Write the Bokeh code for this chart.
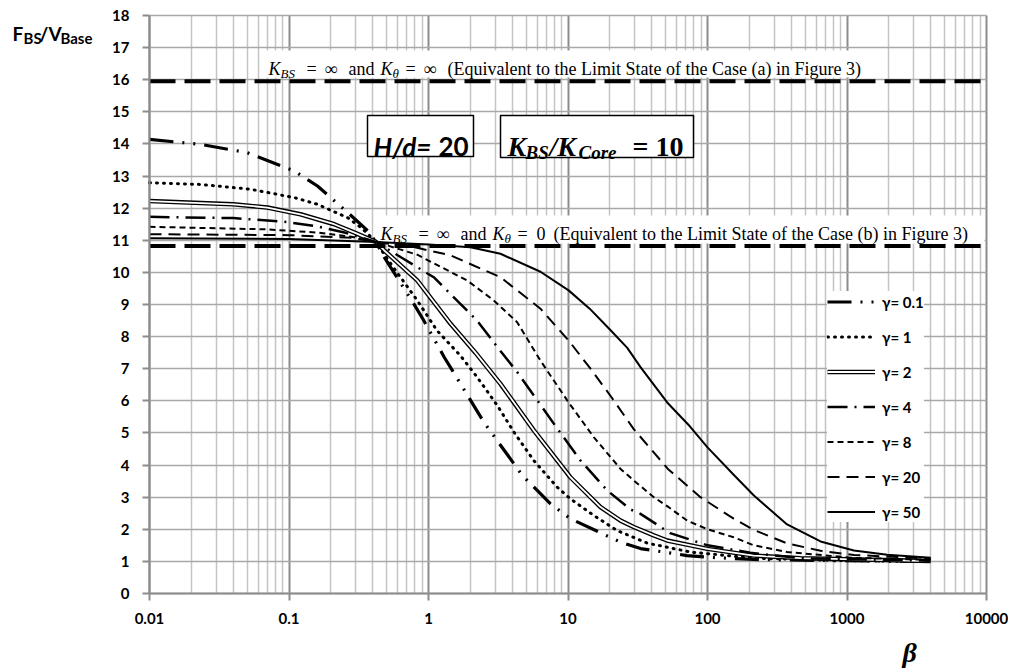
import math
from bokeh.plotting import figure
from bokeh.models import (Range1d, FixedTicker, NumeralTickFormatter, Label,
                          BoxAnnotation, Legend, LegendItem)
from bokeh.embed import file_html
from bokeh.resources import INLINE

# ---------------- data ----------------
beta_g01 = [0.01, 0.023, 0.05, 0.109, 0.16, 0.264, 0.368, 0.42, 0.48, 0.785, 0.925, 1.3, 1.56, 2.49, 4.7, 7.5, 10.4, 23.8, 33.1, 71.5, 100, 215, 1000, 3980]
val_g01 = [14.14, 13.99, 13.73, 13.16, 12.69, 11.86, 11.29, 10.95, 10.48, 9.02, 8.5, 7.35, 6.79, 5.34, 3.68, 2.79, 2.33, 1.6, 1.4, 1.18, 1.13, 1.06, 1.02, 1.0]

beta_g1 = [0.01, 0.023, 0.053, 0.109, 0.16, 0.264, 0.33, 0.42, 0.53, 0.83, 1.15, 1.7, 2.23, 3.11, 4.09, 5.69, 8.37, 10.4, 15.3, 22.5, 37, 75.5, 100, 215, 1000, 3980]
val_g1 = [12.79, 12.74, 12.59, 12.33, 12.12, 11.7, 11.39, 10.95, 10.3, 9.13, 8.19, 7.4, 6.74, 5.86, 5.03, 4.14, 3.31, 2.95, 2.43, 1.96, 1.57, 1.29, 1.24, 1.1, 1.02, 1.0]

beta_g2 = [0.01, 0.04, 0.07, 0.121, 0.211, 0.295, 0.42, 0.48, 0.83, 1.44, 2.17, 3.28, 5.69, 10.4, 17.1, 23.8, 29.6, 41.2, 51.4, 100, 215, 464, 3980]
val_g2 = [12.22, 12.12, 12.02, 11.81, 11.5, 11.24, 10.95, 10.69, 9.75, 8.4, 7.5, 6.53, 5.08, 3.62, 2.69, 2.27, 2.07, 1.81, 1.65, 1.39, 1.18, 1.1, 1.01]

beta_g4 = [0.01, 0.04, 0.092, 0.16, 0.25, 0.42, 0.63, 1.09, 2.23, 3.28, 4.32, 7.91, 12.3, 19.1, 28, 33.1, 54, 100, 203, 464, 3980]
val_g4 = [11.73, 11.69, 11.58, 11.43, 11.24, 10.95, 10.48, 9.85, 8.5, 7.55, 6.9, 5.29, 4.14, 3.21, 2.62, 2.48, 1.88, 1.5, 1.27, 1.1, 1.02]

beta_g8 = [0.01, 0.07, 0.16, 0.28, 0.42, 0.83, 1.89, 2.93, 4.32, 6.35, 10.1, 15.3, 23.8, 29.6, 41.2, 51.4, 71.5, 100, 154, 215, 372, 1120, 3980]
val_g8 = [11.42, 11.34, 11.24, 11.11, 10.95, 10.55, 9.75, 9.13, 8.45, 7.25, 5.95, 4.87, 3.88, 3.52, 3.0, 2.72, 2.27, 2.0, 1.75, 1.5, 1.29, 1.11, 1.05]

beta_g20 = [0.01, 0.1, 0.28, 0.42, 0.8, 1.44, 3.28, 6.35, 10.1, 14.5, 20.2, 29.6, 52, 89, 154, 215, 372, 646, 1120, 3980]
val_g20 = [11.19, 11.16, 11.08, 10.95, 10.78, 10.53, 9.85, 8.87, 7.88, 7.0, 6.15, 5.12, 3.88, 3.0, 2.33, 1.98, 1.56, 1.33, 1.2, 1.09]

beta_g50 = [0.01, 0.1, 0.42, 1.0, 2.0, 3.28, 6.35, 10.1, 14.3, 20.2, 26.6, 33.1, 51.4, 75, 100, 154, 215, 372, 646, 1120, 1941, 3980]
val_g50 = [11.06, 11.04, 10.95, 10.87, 10.78, 10.58, 10.02, 9.44, 8.87, 8.2, 7.65, 7.05, 5.95, 5.2, 4.55, 3.7, 3.05, 2.15, 1.62, 1.34, 1.21, 1.11]

legend_labels = ["γ= 0.1", "γ= 1", "γ= 2", "γ= 4", "γ= 8", "γ= 20", "γ= 50"]
limit_a = 15.95   # K_BS = inf, K_theta = inf
limit_b = 10.82   # K_BS = inf, K_theta = 0

x_ticks = [0.01, 0.1, 1, 10, 100, 1000, 10000]
x_minor = [d * k for d in [0.01, 0.1, 1, 10, 100, 1000] for k in range(2, 10)]
y_ticks = list(range(0, 19))

text_a = "(Equivalent to the Limit State of the Case (a) in Figure 3)"
text_b = "(Equivalent to the Limit State of the Case (b) in Figure 3)"

# ---------------- layout (page pixels) ----------------
W, H = 1008, 670
FL, FR, FT, FB = 149, 986, 15, 593          # plot area inside the canvas
XMIN, XMAX, YMIN, YMAX = 0.01, 10000, 0, 18
LX0, LX1 = math.log10(XMIN), math.log10(XMAX)
PPD = (FR - FL) / (LX1 - LX0)                # px per decade
PPU = (FB - FT) / (YMAX - YMIN)              # px per unit
XLO = 10 ** (LX0 - FL / PPD)
XHI = 10 ** (LX1 + (W - FR) / PPD)
YHI = YMAX + FT / PPU
YLO = YMIN - (H - FB) / PPU


def dx(px):
    return 10 ** (LX0 + (px - FL) / PPD)


def dy(py):
    return YMAX - (py - FT) / PPU


p = figure(width=W, height=H, x_axis_type="log",
           x_range=Range1d(XLO, XHI), y_range=Range1d(YLO, YHI),
           output_backend="svg", toolbar_location=None,
           min_border=0, min_border_left=0, min_border_right=0,
           min_border_top=0, min_border_bottom=0)
p.outline_line_color = None
p.background_fill_color = "white"
p.border_fill_color = "white"

xt = FixedTicker(ticks=x_ticks, minor_ticks=x_minor)
yt = FixedTicker(ticks=y_ticks)

# grid limited to the plot area
has_cb = "cross_bounds" in p.xgrid[0].properties()
if has_cb:
    p.xgrid.ticker = xt
    p.xgrid.bounds = (XMIN, XMAX)
    p.xgrid.cross_bounds = (YMIN, YMAX)
    p.xgrid.grid_line_color = "#8c8c8c"
    p.xgrid.grid_line_width = 2
    p.xgrid.minor_grid_line_color = "#c4c4c4"
    p.xgrid.minor_grid_line_width = 1.5
    p.ygrid.ticker = yt
    p.ygrid.bounds = (YMIN, YMAX)
    p.ygrid.cross_bounds = (XMIN, XMAX)
    p.ygrid.grid_line_color = "#a8a8a8"
    p.ygrid.grid_line_width = 1.5
else:
    p.xgrid.visible = False
    p.ygrid.visible = False
    p.segment(x0=x_minor, x1=x_minor, y0=YMIN, y1=YMAX, line_color="#c4c4c4", line_width=1.5)
    p.segment(x0=[XMIN] * len(y_ticks), x1=[XMAX] * len(y_ticks),
              y0=y_ticks, y1=y_ticks, line_color="#a8a8a8", line_width=1.5)
    p.segment(x0=x_ticks, x1=x_ticks, y0=YMIN, y1=YMAX, line_color="#8c8c8c", line_width=2)

for ax in (p.xaxis[0], p.yaxis[0]):
    ax.axis_line_color = "#8c8c8c"
    ax.axis_line_width = 2
    ax.major_tick_line_color = "#8c8c8c"
    ax.major_tick_line_width = 2
    ax.major_tick_out = 7
    ax.major_tick_in = 0
    ax.minor_tick_out = 0
    ax.minor_tick_in = 0
    ax.major_label_text_font = "Lato"
    ax.major_label_text_font_size = "15px"
    ax.major_label_text_font_style = "bold"
    ax.major_label_text_color = "black"

p.xaxis.ticker = xt
p.xaxis.formatter = NumeralTickFormatter(format="0.[00]")
p.xaxis.major_label_standoff = 12
p.xaxis.fixed_location = YMIN
p.xaxis.bounds = (XMIN, XMAX)
p.yaxis.ticker = yt
p.yaxis.major_label_standoff = 13
p.yaxis.fixed_location = XMIN
p.yaxis.bounds = (YMIN, YMAX)

# white boxes behind the limit-state notes
p.add_layout(BoxAnnotation(left=dx(263), right=dx(872), top=dy(50), bottom=dy(77),
                           fill_color="white", fill_alpha=1, line_alpha=0, level="underlay"))
p.add_layout(BoxAnnotation(left=dx(376), right=dx(984), top=dy(215), bottom=dy(243),
                           fill_color="white", fill_alpha=1, line_alpha=0, level="underlay"))

# curves
r01 = p.line(beta_g01, val_g01, line_color="black", line_width=3.2, line_dash="24 9 2 9 2 9")
r1 = p.line(beta_g1, val_g1, line_color="black", line_width=3, line_dash="1 6", line_cap="round")
r2a = p.line(beta_g2, val_g2, line_color="black", line_width=4.5)
r2b = p.line(beta_g2, val_g2, line_color="white", line_width=1.8)
r4 = p.line(beta_g4, val_g4, line_color="black", line_width=2.5, line_dash="20 7 2 7")
r8 = p.line(beta_g8, val_g8, line_color="black", line_width=2, line_dash="6 4")
r20 = p.line(beta_g20, val_g20, line_color="black", line_width=2, line_dash="12 7")
r50 = p.line(beta_g50, val_g50, line_color="black", line_width=2)

# limit lines across the plot area
p.segment(x0=[XMIN, XMIN], x1=[XMAX, XMAX], y0=[limit_a, limit_b], y1=[limit_a, limit_b],
          line_color="black", line_width=4, line_dash="26 9")


def lab(text, px, py, size, font="Liberation Serif", style="normal", align="left"):
    p.add_layout(Label(x=dx(px), y=dy(py), text=text, text_font=font,
                       text_font_size=f"{size}px", text_font_style=style,
                       text_baseline="alphabetic", text_align=align,
                       text_color="black"))


# note (a)
lab("K", 268, 68, 18, style="italic")
lab("BS", 280, 73, 13, style="italic")
lab("=", 306, 68, 18)
lab("∞", 324, 68, 18)
lab("and", 348, 68, 18)
lab("K", 380, 68, 18, style="italic")
lab("θ", 392, 73, 13, style="italic")
lab("=", 405, 68, 18)
lab("∞", 423, 68, 18)
lab(text_a, 447, 68, 18)

# note (b)
lab("K", 380, 233, 18, style="italic")
lab("BS", 392, 238, 13, style="italic")
lab("=", 418, 233, 18)
lab("∞", 436, 233, 18)
lab("and", 460, 233, 18)
lab("K", 492, 233, 18, style="italic")
lab("θ", 504, 238, 13, style="italic")
lab("=", 517, 233, 18)
lab("0", 536, 233, 18)
lab(text_b, 553, 233, 18)

# framed boxes
p.add_layout(BoxAnnotation(left=dx(367), right=dx(473), top=dy(115), bottom=dy(156),
                           fill_color="white", fill_alpha=1, line_color="black",
                           line_alpha=1, line_width=1.5))
p.add_layout(BoxAnnotation(left=dx(500), right=dx(693), top=dy(115), bottom=dy(157),
                           fill_color="white", fill_alpha=1, line_color="black",
                           line_alpha=1, line_width=1.5))
lab("H/d=", 373, 146, 26, font="Lato", style="bold italic")
lab("20", 438, 146, 26, font="Lato", style="bold")
lab("K", 507, 146, 28, style="bold italic")
lab("BS", 525, 152, 19, style="bold italic")
lab("/K", 549, 146, 28, style="bold italic")
lab("Core", 578, 152, 19, style="bold italic")
lab("= 10", 632, 146, 28, style="bold")

# axis titles
lab("F", 12, 33, 19, font="Lato", style="bold")
lab("BS", 23, 37, 15, font="Lato", style="bold")
lab("/V", 39, 33, 19, font="Lato", style="bold")
lab("Base", 60, 37, 15, font="Lato", style="bold")
lab("β", 902, 652, 28, style="bold italic")

# legend
items = [LegendItem(label=legend_labels[0], renderers=[r01]),
         LegendItem(label=legend_labels[1], renderers=[r1]),
         LegendItem(label=legend_labels[2], renderers=[r2a, r2b]),
         LegendItem(label=legend_labels[3], renderers=[r4]),
         LegendItem(label=legend_labels[4], renderers=[r8]),
         LegendItem(label=legend_labels[5], renderers=[r20]),
         LegendItem(label=legend_labels[6], renderers=[r50])]
legend = Legend(items=items, location=(827, H - 522),
                padding=13, spacing=14, margin=0,
                glyph_width=48, glyph_height=21, label_height=21, label_standoff=7,
                label_text_font="Lato", label_text_font_size="15px",
                label_text_font_style="bold", label_text_color="black",
                border_line_color=None, background_fill_color="white",
                background_fill_alpha=1)
p.add_layout(legend)

open("out.html", "w").write(file_html(p, INLINE))
